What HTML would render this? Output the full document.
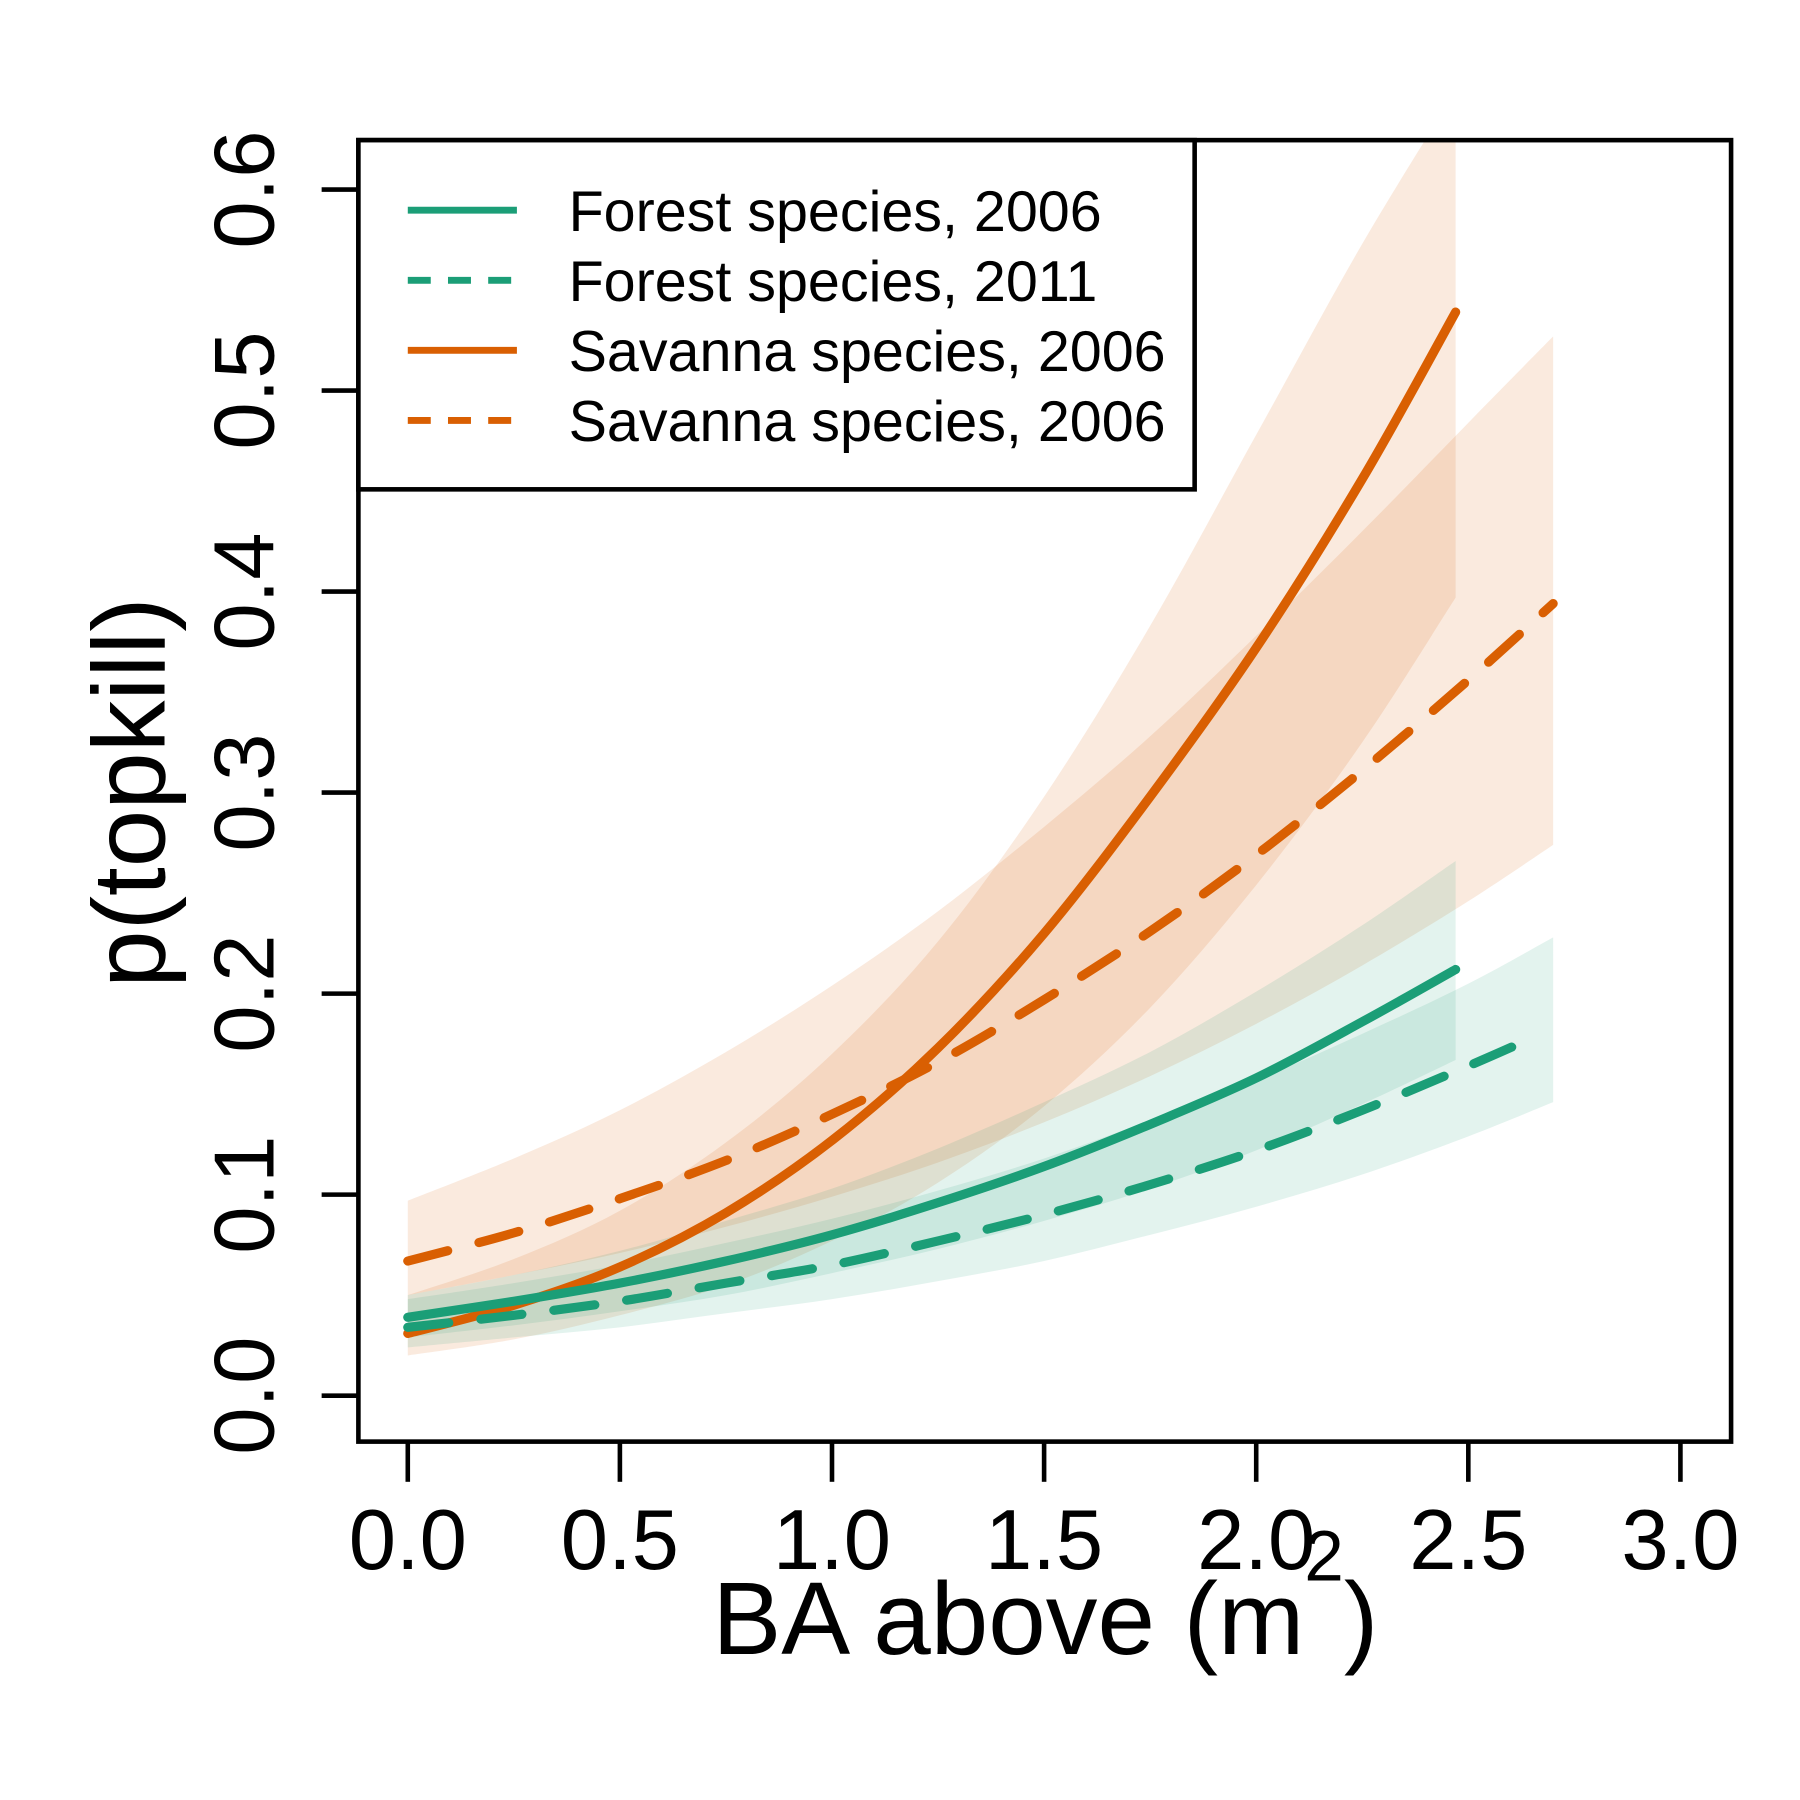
<!DOCTYPE html>
<html><head><meta charset="utf-8"><style>html,body{margin:0;padding:0;background:#fff}svg{display:block}</style></head>
<body>
<svg id="chart" width="1800" height="1800" viewBox="0 0 1567 1567" xmlns="http://www.w3.org/2000/svg" font-family="Liberation Sans, Arial, sans-serif">
<defs><clipPath id="clip"><rect x="312" y="122" width="1195" height="1133"/></clipPath></defs>
<g id="bands" clip-path="url(#clip)"></g>
<g id="lines" clip-path="url(#clip)"></g>
<rect x="312" y="122" width="1195" height="1133" fill="none" stroke="#000" stroke-width="4"/>
<g id="axes"></g>
<text x="910" y="1440" font-size="90" text-anchor="middle">BA above (m<tspan font-size="62" dy="-64">2</tspan><tspan dy="64">)</tspan></text>
<text transform="translate(143,690) rotate(-90)" font-size="90" text-anchor="middle">p(topkill)</text>
<g>
<rect x="312" y="122" width="728" height="304" fill="#fff" stroke="#000" stroke-width="4"/>
<line x1="355" y1="183" x2="450" y2="183" stroke="#1b9e77" stroke-width="6"/>
<line x1="355" y1="244" x2="450" y2="244" stroke="#1b9e77" stroke-width="6" stroke-dasharray="20 15"/>
<line x1="355" y1="305" x2="450" y2="305" stroke="#d95f02" stroke-width="6"/>
<line x1="355" y1="366" x2="450" y2="366" stroke="#d95f02" stroke-width="6" stroke-dasharray="20 15"/>
<text x="495" y="201" font-size="50">Forest species, 2006</text>
<text x="495" y="262" font-size="50">Forest species, 2011</text>
<text x="495" y="323" font-size="50">Savanna species, 2006</text>
<text x="495" y="384" font-size="50">Savanna species, 2006</text>
</g>
</svg>
<script>
const xTicks = [0, 0.5, 1.0, 1.5, 2.0, 2.5, 3.0];
const xTickLabels = ["0.0","0.5","1.0","1.5","2.0","2.5","3.0"];
const yTicks = [0, 0.1, 0.2, 0.3, 0.4, 0.5, 0.6];
const yTickLabels = ["0.0","0.1","0.2","0.3","0.4","0.5","0.6"];

const forest06X = [0, 0.25, 0.5, 0.75, 1.0, 1.25, 1.5, 1.75, 2.0, 2.25, 2.47];
const forest06Fit = [0.039, 0.047, 0.056, 0.067, 0.080, 0.096, 0.114, 0.135, 0.158, 0.186, 0.212];
const forest06Hi = [0.050, 0.060, 0.072, 0.087, 0.103, 0.123, 0.146, 0.171, 0.201, 0.234, 0.266];
const forest06Lo = [0.029, 0.035, 0.042, 0.050, 0.061, 0.073, 0.087, 0.103, 0.122, 0.145, 0.167];

const forest11X = [0, 0.25, 0.5, 0.75, 1.0, 1.25, 1.5, 1.75, 2.0, 2.25, 2.5, 2.63];
const forest11Fit = [0.034, 0.040, 0.047, 0.056, 0.065, 0.077, 0.090, 0.105, 0.122, 0.142, 0.164, 0.176];
const forest11BandX = [0, 0.25, 0.5, 0.75, 1.0, 1.25, 1.5, 1.75, 2.0, 2.25, 2.5, 2.7];
const forest11Hi = [0.048, 0.056, 0.065, 0.076, 0.088, 0.102, 0.118, 0.137, 0.157, 0.180, 0.205, 0.228];
const forest11Lo = [0.024, 0.029, 0.034, 0.041, 0.048, 0.057, 0.067, 0.080, 0.094, 0.110, 0.129, 0.146];

const sav06X = [0, 0.25, 0.5, 0.75, 1.0, 1.25, 1.5, 1.75, 2.0, 2.25, 2.47];
const sav06Fit = [0.031, 0.045, 0.064, 0.091, 0.127, 0.173, 0.230, 0.298, 0.372, 0.456, 0.539];
const sav06Hi = [0.050, 0.068, 0.092, 0.126, 0.170, 0.226, 0.298, 0.383, 0.478, 0.573, 0.649];
const sav06Lo = [0.020, 0.028, 0.040, 0.055, 0.077, 0.106, 0.144, 0.193, 0.254, 0.325, 0.397];

const sav2X = [0, 0.25, 0.5, 0.75, 1.0, 1.25, 1.5, 1.75, 2.0, 2.25, 2.5, 2.7];
const sav2Fit = [0.067, 0.081, 0.098, 0.117, 0.140, 0.166, 0.197, 0.231, 0.269, 0.311, 0.356, 0.394];
const sav2Hi = [0.097, 0.118, 0.142, 0.171, 0.204, 0.241, 0.283, 0.328, 0.378, 0.430, 0.484, 0.527];
const sav2Lo = [0.050, 0.060, 0.071, 0.084, 0.099, 0.116, 0.136, 0.159, 0.185, 0.214, 0.246, 0.274];

const NS = "http://www.w3.org/2000/svg";
const sx = v => 355 + v * 369.3;
const sy = v => 1215 - v * 1750;

function pts(xs, ys){ return xs.map((x,i)=>[sx(x), sy(ys[i])]); }
function smooth(p){
  let d = "M" + p[0][0].toFixed(1) + "," + p[0][1].toFixed(1);
  for (let i=0;i<p.length-1;i++){
    const p0=p[Math.max(0,i-1)], p1=p[i], p2=p[i+1], p3=p[Math.min(p.length-1,i+2)];
    const c1=[p1[0]+(p2[0]-p0[0])/6, p1[1]+(p2[1]-p0[1])/6];
    const c2=[p2[0]-(p3[0]-p1[0])/6, p2[1]-(p3[1]-p1[1])/6];
    d += " C"+c1[0].toFixed(1)+","+c1[1].toFixed(1)+" "+c2[0].toFixed(1)+","+c2[1].toFixed(1)+" "+p2[0].toFixed(1)+","+p2[1].toFixed(1);
  }
  return d;
}
function bandPath(xs, hi, lo){
  const up = pts(xs, hi), dn = pts(xs, lo).reverse();
  return smooth(up) + " L" + dn[0][0].toFixed(1) + "," + dn[0][1].toFixed(1) + " " + smooth(dn).replace(/^M[^C]*/, "") + " Z";
}
const bands = document.getElementById('bands');
const lines = document.getElementById('lines');
function addBand(name, xs, hi, lo, color){
  const el = document.createElementNS(NS,'path');
  
  
  el.setAttribute('d', bandPath(xs, hi, lo));
  el.setAttribute('fill', color);
  bands.appendChild(el);
}
function addLine(name, xs, ys, color, dashed){
  const el = document.createElementNS(NS,'path');
  
  
  el.setAttribute('d', smooth(pts(xs, ys)));
  el.setAttribute('fill', 'none');
  el.setAttribute('stroke', color);
  el.setAttribute('stroke-width', '8');
  el.setAttribute('stroke-linecap', 'round');
  el.setAttribute('stroke-linejoin', 'round');
  if (dashed) el.setAttribute('stroke-dasharray', '36 28');
  lines.appendChild(el);
}
const OR = "rgba(217,95,2,0.13)", GR = "rgba(27,158,119,0.12)";
addBand('band-savanna-2006', sav06X, sav06Hi, sav06Lo, OR);
addBand('band-savanna-2006-dashed', sav2X, sav2Hi, sav2Lo, OR);
addBand('band-forest-2006', forest06X, forest06Hi, forest06Lo, GR);
addBand('band-forest-2011', forest11BandX, forest11Hi, forest11Lo, GR);
addLine('line-savanna-2006', sav06X, sav06Fit, '#d95f02', false);
addLine('line-savanna-2006-dashed', sav2X, sav2Fit, '#d95f02', true);
addLine('line-forest-2006', forest06X, forest06Fit, '#1b9e77', false);
addLine('line-forest-2011', forest11X, forest11Fit, '#1b9e77', true);

const axes = document.getElementById('axes');
xTicks.forEach((v,i)=>{
  const t = document.createElementNS(NS,'line');
  
  
  t.setAttribute('x1', sx(v)); t.setAttribute('x2', sx(v));
  t.setAttribute('y1', 1255); t.setAttribute('y2', 1290);
  t.setAttribute('stroke', '#000'); t.setAttribute('stroke-width', '4');
  axes.appendChild(t);
  const l = document.createElementNS(NS,'text');
  
  
  l.setAttribute('x', sx(v)); l.setAttribute('y', 1366);
  l.setAttribute('font-size', '74'); l.setAttribute('text-anchor', 'middle');
  l.textContent = xTickLabels[i];
  axes.appendChild(l);
});
yTicks.forEach((v,i)=>{
  const t = document.createElementNS(NS,'line');
  
  
  t.setAttribute('x1', 280); t.setAttribute('x2', 312);
  t.setAttribute('y1', sy(v)); t.setAttribute('y2', sy(v));
  t.setAttribute('stroke', '#000'); t.setAttribute('stroke-width', '4');
  axes.appendChild(t);
  const l = document.createElementNS(NS,'text');
  
  
  l.setAttribute('transform', 'translate(238,' + sy(v) + ') rotate(-90)');
  l.setAttribute('font-size', '74'); l.setAttribute('text-anchor', 'middle');
  l.textContent = yTickLabels[i];
  axes.appendChild(l);
});
</script>
</body></html>
